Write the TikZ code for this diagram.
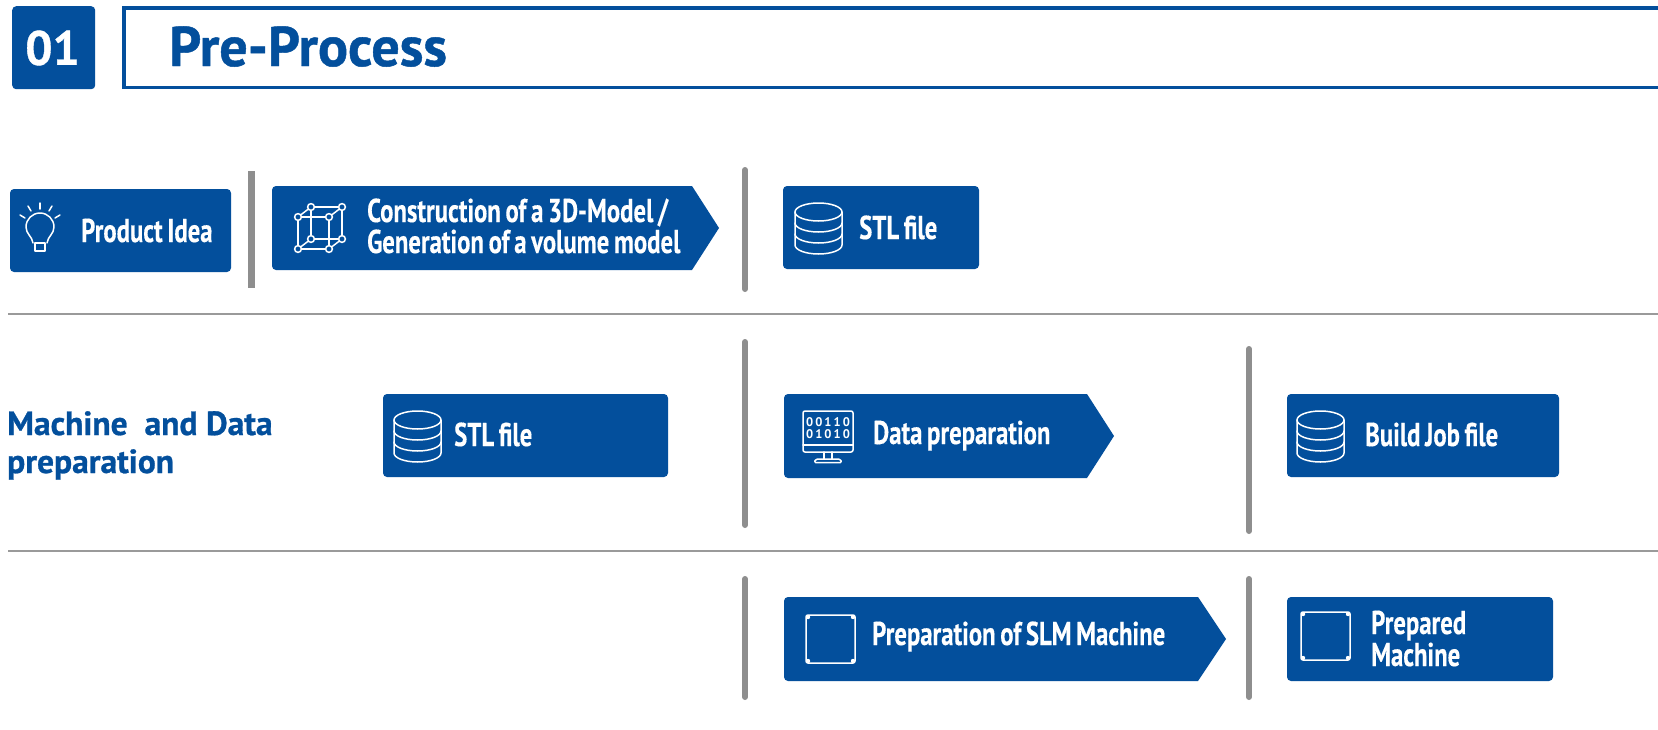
\documentclass[tikz,border=0pt]{standalone}
\usepackage{fontspec}
\setmainfont{PT Sans}
\newfontfamily\condfont[FakeStretch=0.75,FakeBold=0.3,WordSpace=0.75]{PT Sans Bold}
\newfontfamily\headfont[FakeBold=0.8]{PT Sans Bold}
\newfontfamily\bitfont{PT Sans Bold}
\definecolor{slmblue}{HTML}{034F9C}
\definecolor{slmgray}{HTML}{8E8E8E}
\definecolor{slmrule}{HTML}{9A9A9A}
\tikzset{
  bluebox/.style={fill=slmblue,draw=none,rounded corners=4pt},
  bluearrow/.style={fill=slmblue,draw=none},
  divider/.style={draw=slmgray,line width=6pt,line cap=round},
  rowrule/.style={draw=slmrule,line width=1.3pt},
  icon/.style={draw=white,line width=1.5pt,fill=none,line cap=round,line join=round},
  boxlabel/.style={anchor=base west,inner sep=0pt,text=white,font=\condfont\fontsize{33}{33}\selectfont},
  sidelabel/.style={anchor=base west,inner sep=0pt,text=slmblue,font=\headfont\fontsize{33.5}{33.5}\selectfont},
  digits/.style={anchor=center,inner sep=0pt,text=white,font=\bitfont\fontsize{12.5}{12.5}\selectfont},
}
% database icon: left x, top y
\newcommand{\dbicon}[2]{%
  \begin{scope}[shift={(#1,#2)}]
    \draw[icon] (0,9) arc[start angle=180,end angle=-180,x radius=23.5,y radius=9];
    \draw[icon] (0,9) -- (0,42) arc[start angle=180,end angle=0,x radius=23.5,y radius=9] -- (47,9);
    \draw[icon] (0,20) arc[start angle=180,end angle=0,x radius=23.5,y radius=9];
    \draw[icon] (0,31) arc[start angle=180,end angle=0,x radius=23.5,y radius=9];
  \end{scope}}
% machine frame icon: left x, top y
\newcommand{\frameicon}[2]{%
  \begin{scope}[shift={(#1,#2)}]
    \draw[icon,rounded corners=2pt] (0,0) rectangle (49,48);
    \foreach \p in {(2,2),(47,2),(2,46),(47,46)} \fill[white] \p circle (2.2);
  \end{scope}}
% arrow box: left x, shoulder x, tip x, top y, bottom y
\newcommand{\arrowbox}[5]{%
  \fill[bluearrow] (#2,#4) [rounded corners=4pt] -- (#1,#4) -- (#1,#5) [sharp corners] -- (#2,#5) -- (#3,{(#4+#5)/2}) -- cycle;}
\begin{document}
\begin{tikzpicture}[x=1pt,y=-1pt]
\useasboundingbox (0,0) rectangle (1658,729);
\fill[white] (0,0) rectangle (1658,729);

% header
\node[bluebox,minimum width=83pt,minimum height=83pt,anchor=north west] (numbox) at (12,6) {};
\node[anchor=center,inner sep=0pt,text=white,font=\headfont\fontsize{48}{48}\selectfont] (numlabel) at (52.5,48) {01};
\draw[draw=slmblue,line width=3.4pt] (1660,8) -- (124,8) -- (124,87.5) -- (1660,87.5);
\node[anchor=base west,inner sep=0pt,text=slmblue,font=\headfont\fontsize{56}{56}\selectfont] (title) at (169,66) {Pre-Process};

% rules
\draw[rowrule] (8,314) -- (1658,314);
\draw[rowrule] (8,551) -- (1658,551);

% dividers
\draw[draw=slmgray,line width=7pt] (251.5,171) -- (251.5,288);
\draw[divider] (745,170) -- (745,289);
\draw[divider] (745,342) -- (745,525);
\draw[divider] (1249,349) -- (1249,531);
\draw[divider] (745,579) -- (745,697);
\draw[divider] (1249,579) -- (1249,697);

% row 1
\path[bluebox] (10,189) rectangle (231,272);
\arrowbox{272}{692}{719}{186}{270}
\path[bluebox] (783,186) rectangle (979,269);
% row 2
\path[bluebox] (383,394) rectangle (668,477);
\arrowbox{784}{1087}{1114}{394}{478}
\path[bluebox] (1287,394) rectangle (1559,477);
% row 3
\arrowbox{784}{1198}{1226}{597}{681}
\path[bluebox] (1287,597) rectangle (1553,681);

% labels
\node[boxlabel] (idea) at (81,242) {Product Idea};
\node[boxlabel] (cons1) at (367,222) {Construction of a 3D-Model /};
\node[boxlabel] (cons2) at (367,253) {Generation of a volume model};
\node[boxlabel] (stla) at (859,239) {STL file};
\node[sidelabel] (side1) at (7,435) {Machine\ \ and Data};
\node[sidelabel] (side2) at (7,473) {preparation};
\node[boxlabel] (stlb) at (454,446) {STL file};
\node[boxlabel] (data) at (873,444) {Data preparation};
\node[boxlabel] (build) at (1365,446) {Build Job file};
\node[boxlabel] (slm) at (872,645) {Preparation of SLM Machine};
\node[boxlabel] (prep1) at (1371,634) {Prepared};
\node[boxlabel] (prep2) at (1371,666) {Machine};

% bulb icon
\draw[icon] (35,251) -- (45,251) -- (45,243) -- (35,243) -- cycle;
\draw[icon] (33,243) .. controls (32,236) and (26,234) .. (26,227)
   arc[start angle=180,end angle=360,radius=14]
   .. controls (54,234) and (48,236) .. (47,243);
\draw[icon] (40,203) -- (40,209);
\draw[icon] (28,206) -- (31,211);
\draw[icon] (52,206) -- (49,211);
\draw[icon] (20,215) -- (25,218);
\draw[icon] (60,215) -- (55,218);

% cube icon
\draw[icon] (298,217) rectangle (329,249);
\draw[icon] (311,207) rectangle (342,239);
\draw[icon] (298,217) -- (311,207) (329,217) -- (342,207) (298,249) -- (311,239) (329,249) -- (342,239);
\foreach \p in {(298,217),(329,217),(298,249),(329,249),(311,207),(342,207),(311,239),(342,239)}
  \draw[icon,fill=slmblue] \p circle (3.4);

% database icons
\dbicon{795}{203}
\dbicon{394}{411}
\dbicon{1297}{411}

% monitor icon
\draw[icon,rounded corners=2pt] (803,411) rectangle (853,452);
\draw[icon] (803,445) -- (853,445);
\draw[icon] (824,452) -- (824,459) (832,452) -- (832,459);
\draw[icon,rounded corners=1.5pt] (814,462.5) -- (816,459) -- (840,459) -- (842,462.5) -- cycle;
\node[digits] (bits1) at (828,422) {0\,0\,1\,1\,0};
\node[digits] (bits2) at (828,434) {0\,1\,0\,1\,0};

% machine icons
\frameicon{806}{615}
\frameicon{1301}{612}
\end{tikzpicture}
\end{document}
